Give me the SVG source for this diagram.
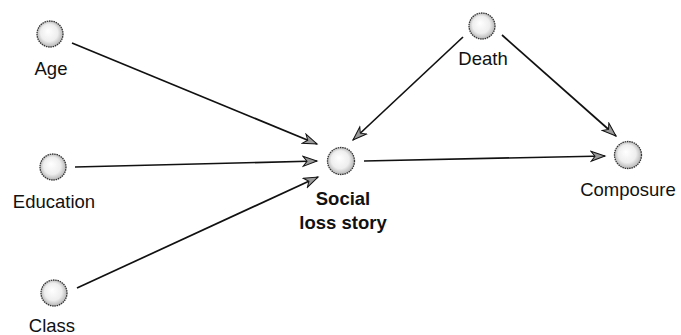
<svg xmlns="http://www.w3.org/2000/svg" width="681" height="335" viewBox="0 0 681 335">
<style>
.lbl{font-family:"Liberation Sans",Arial,sans-serif;font-size:18.5px;fill:#111;text-anchor:middle}
.bold{font-weight:bold}
.ball{fill:url(#sph);stroke:#333;stroke-width:1.3;stroke-dasharray:1.5 0.8}
.edge{stroke:#111;stroke-width:1.7;fill:none;marker-end:url(#ah)}
</style>
<defs>
<radialGradient id="sph" cx="50%" cy="50%" r="55%" fx="42%" fy="38%">
<stop offset="0" stop-color="#ffffff"/>
<stop offset="0.6" stop-color="#eeeeee"/>
<stop offset="1" stop-color="#a8a8a8"/>
</radialGradient>
<marker id="ah" markerUnits="userSpaceOnUse" markerWidth="18" markerHeight="14" refX="15" refY="6" orient="auto">
<path d="M1,1 L15,6 L1,11 L5,6 Z" fill="#9a9a9a" stroke="#111" stroke-width="1"/>
</marker>
</defs>
<g id="connectors">
<line class="edge" x1="72" y1="43" x2="317" y2="144"/>
<line class="edge" x1="75" y1="167" x2="317" y2="161"/>
<line class="edge" x1="77" y1="288" x2="318" y2="177"/>
<line class="edge" x1="463" y1="37" x2="353" y2="140"/>
<line class="edge" x1="502" y1="35" x2="616" y2="136"/>
<line class="edge" x1="364" y1="161" x2="605" y2="156"/>
</g>
<g id="age"><circle class="ball" cx="50" cy="34" r="13"/><text class="lbl" x="51" y="75">Age</text></g>
<g id="education"><circle class="ball" cx="53" cy="167" r="13"/><text class="lbl" x="54" y="208">Education</text></g>
<g id="class"><circle class="ball" cx="54" cy="293" r="13"/><text class="lbl" x="52" y="332">Class</text></g>
<g id="social"><circle class="ball" cx="341" cy="161" r="13.5"/><text class="lbl bold" x="343" y="205">Social</text><text class="lbl bold" x="343" y="229">loss story</text></g>
<g id="death"><circle class="ball" cx="482" cy="26" r="13"/><text class="lbl" x="483" y="65">Death</text></g>
<g id="composure"><circle class="ball" cx="628" cy="155" r="13.5"/><text class="lbl" x="628" y="196">Composure</text></g>
</svg>
